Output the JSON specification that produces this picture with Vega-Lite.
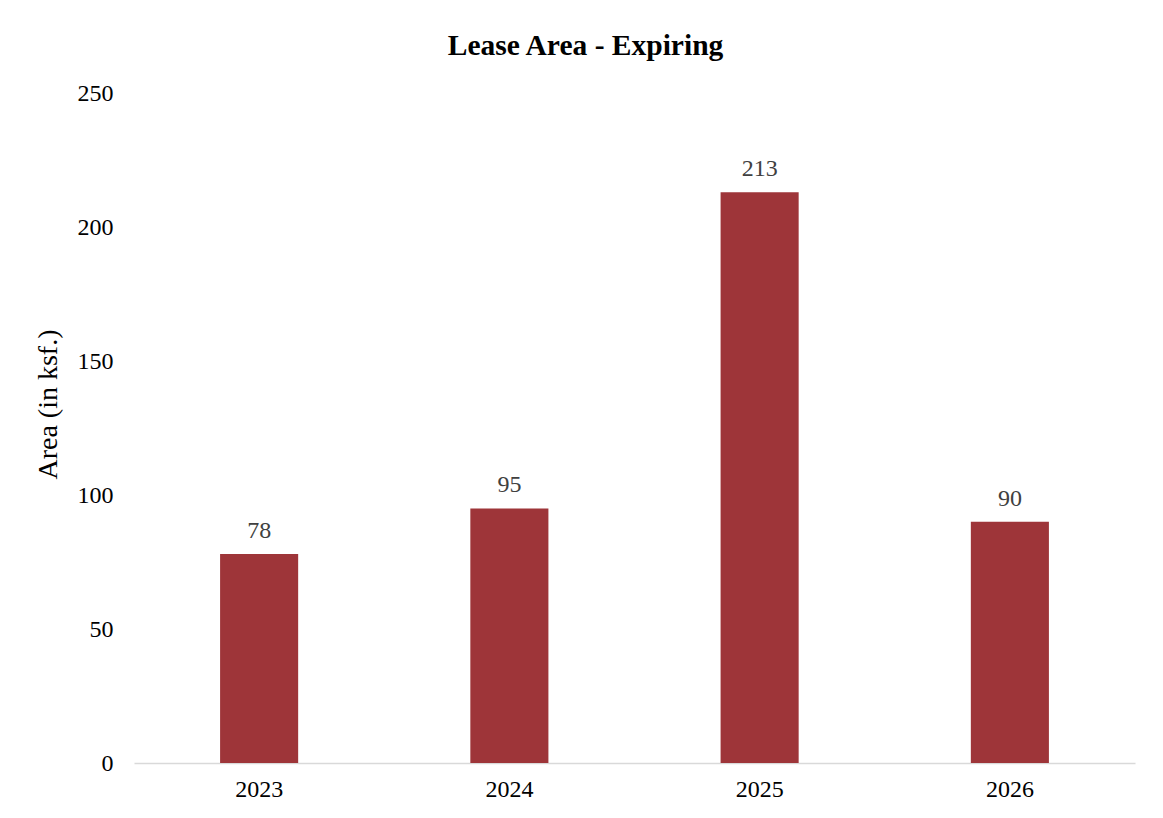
{
  "$schema": "https://vega.github.io/schema/vega-lite/v6.json",
  "autosize": "none",
  "width": 1001,
  "height": 670,
  "padding": {"left": 134, "top": 93, "right": 28, "bottom": 55},
  "background": "white",
  "title": {
    "text": "Lease Area - Expiring",
    "font": "Liberation Serif",
    "fontSize": 29.5,
    "fontWeight": "bold",
    "color": "#000000",
    "anchor": "middle",
    "dx": -49,
    "offset": 20
  },
  "data": {
    "values": [
      {"year": "2023", "area": 78},
      {"year": "2024", "area": 95},
      {"year": "2025", "area": 213},
      {"year": "2026", "area": 90}
    ]
  },
  "config": {
    "view": {"stroke": null},
    "font": "Liberation Serif"
  },
  "encoding": {
    "x": {
      "field": "year",
      "type": "nominal",
      "sort": null,
      "scale": {"paddingInner": 0.688, "paddingOuter": 0.344},
      "axis": {
        "title": null,
        "labelAngle": 0,
        "labelFont": "Liberation Serif",
        "labelFontSize": 24,
        "labelColor": "#000000",
        "labelPadding": 14,
        "ticks": false,
        "domainColor": "#d9d9d9",
        "domainWidth": 1.5,
        "grid": false
      }
    },
    "y": {
      "field": "area",
      "type": "quantitative",
      "scale": {"domain": [0, 250]},
      "axis": {
        "title": "Area (in ksf.)",
        "titleFont": "Liberation Serif",
        "titleFontSize": 28,
        "titleFontWeight": "normal",
        "titleColor": "#000000",
        "titlePadding": 15,
        "titleY": 311,
        "values": [0, 50, 100, 150, 200, 250],
        "labelFont": "Liberation Serif",
        "labelFontSize": 24,
        "labelColor": "#000000",
        "labelPadding": 21,
        "ticks": false,
        "domain": false,
        "grid": false
      }
    }
  },
  "layer": [
    {"mark": {"type": "bar", "color": "#9E3539"}},
    {
      "mark": {
        "type": "text",
        "baseline": "alphabetic",
        "dy": -16,
        "font": "Liberation Serif",
        "fontSize": 24,
        "color": "#404040"
      },
      "encoding": {"text": {"field": "area", "type": "quantitative"}}
    }
  ]
}
